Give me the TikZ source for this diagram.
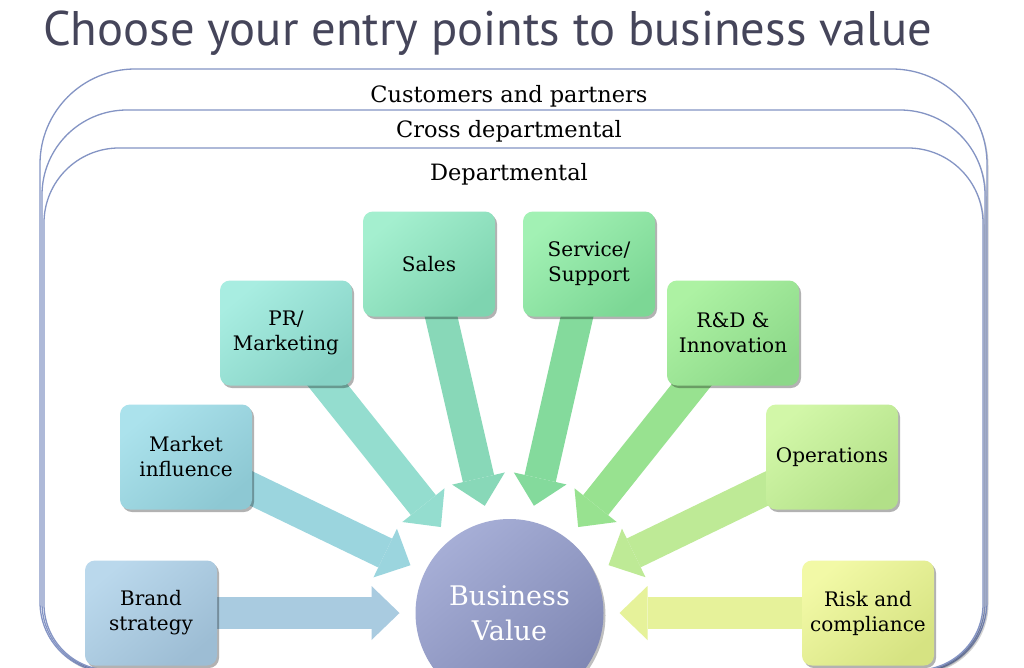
\documentclass[tikz,border=0pt]{standalone}
\usepackage{fontspec}
\setmainfont{DejaVu Serif}
\newfontfamily\titlefont{PT Sans}
\usetikzlibrary{arrows.meta,calc,shadows}
\pgfdeclarelayer{back}
\pgfdeclarelayer{mid}
\pgfsetlayers{back,mid,main}
\definecolor{titlecol}{HTML}{45455A}
\definecolor{framecol}{HTML}{8494C4}
\definecolor{brandA}{HTML}{BAD8EC}\definecolor{brandB}{HTML}{9DBDD4}\definecolor{brandC}{HTML}{A9CBE0}
\definecolor{marketA}{HTML}{ABE2EC}\definecolor{marketB}{HTML}{8DC8D3}\definecolor{marketC}{HTML}{9BD5DE}
\definecolor{prA}{HTML}{A8EDE1}\definecolor{prB}{HTML}{86D2C5}\definecolor{prC}{HTML}{94DDCF}
\definecolor{salesA}{HTML}{A4EFCF}\definecolor{salesB}{HTML}{7ED4B0}\definecolor{salesC}{HTML}{88D8B8}
\definecolor{servA}{HTML}{A2F1B4}\definecolor{servB}{HTML}{7CD795}\definecolor{servC}{HTML}{84DA9C}
\definecolor{rdA}{HTML}{ADF2A3}\definecolor{rdB}{HTML}{8CD889}\definecolor{rdC}{HTML}{98E290}
\definecolor{opsA}{HTML}{D2F7A8}\definecolor{opsB}{HTML}{B2E088}\definecolor{opsC}{HTML}{BEEA96}
\definecolor{riskA}{HTML}{F2F9A6}\definecolor{riskB}{HTML}{D6E382}\definecolor{riskC}{HTML}{E6F29A}
\definecolor{bvA}{HTML}{A6AED6}\definecolor{bvB}{HTML}{7F87B3}
\tikzset{
  frame/.style={draw=framecol, line width=1.3pt, fill=white,
    drop shadow={shadow xshift=1.5pt, shadow yshift=-2pt, opacity=.18, fill=black}},
  framelabel/.style={anchor=base, font=\fontsize{22.5}{26}\selectfont, inner sep=0pt},
  box/.style 2 args={rectangle, rounded corners=10pt, minimum width=132pt, minimum height=105pt,
    inner sep=0pt, align=center, font=\fontsize{20}{25}\selectfont,
    top color=#1, bottom color=#2, shading angle=40,
    drop shadow={shadow xshift=2pt, shadow yshift=-2.5pt, opacity=.3, fill=black}},
  barrow/.style={draw=#1, line width=32pt,
    -{Triangle[width=54pt,length=28pt,line width=0pt,fill=#1]}},
}
\begin{document}
\begin{tikzpicture}[x=1pt,y=-1pt]
\useasboundingbox (0,0) rectangle (1024,667);
\begin{pgfonlayer}{back}
\fill[white] (0,0) rectangle (1024,667);
\draw[frame] (40,400) [rounded corners=95pt] -- (40,69) -- (987,69) -- (987,400)
  [rounded corners=70pt] -- (987,672) -- (40,672) -- cycle;
\draw[frame] (42,400) [rounded corners=85pt] -- (42,110) -- (985,110) -- (985,400)
  [rounded corners=68pt] -- (985,671) -- (42,671) -- cycle;
\draw[frame] (44,400) [rounded corners=75pt] -- (44,148) -- (983,148) -- (983,400)
  [rounded corners=66pt] -- (983,670) -- (44,670) -- cycle;
\end{pgfonlayer}

\node[anchor=base west, inner sep=0pt, text=titlecol, font=\titlefont\fontsize{48.6}{52}\selectfont]
  (title) at (43,45) {Choose your entry points to business value};

\node[framelabel] (cust) at (509,102) {Customers and partners};
\node[framelabel] (cross) at (509,137) {Cross departmental};
\node[framelabel] (dept) at (509,180) {Departmental};

\node[box={brandA}{brandB}] (brand) at (151,613) {Brand\\strategy};
\node[box={marketA}{marketB}] (market) at (186,457) {Market\\influence};
\node[box={prA}{prB}] (pr) at (286,333) {PR/\\Marketing};
\node[box={salesA}{salesB}] (sales) at (429,264) {Sales};
\node[box={servA}{servB}] (serv) at (589,264) {Service/\\Support};
\node[box={rdA}{rdB}] (rd) at (733,333) {R\&D \&\\Innovation};
\node[box={opsA}{opsB}] (ops) at (832,457) {Operations};
\node[box={riskA}{riskB}] (risk) at (868,613) {Risk and\\compliance};

\node[circle, minimum size=188pt, inner sep=0pt, align=center, text=white,
  top color=bvA, bottom color=bvB, shading angle=40,
  font=\fontsize{27}{35}\selectfont,
  drop shadow={shadow xshift=2pt, shadow yshift=-2.5pt, opacity=.25, fill=black}]
  (bv) at (509.5,613) {Business\\Value};

\begin{pgfonlayer}{mid}
\foreach \n/\c in {brand/brandC, market/marketC, pr/prC, sales/salesC, serv/servC, rd/rdC, ops/opsC, risk/riskC}{
  \draw[barrow=\c] (\n.center) -- ($(bv.center)!110pt!(\n.center)$);
}
\end{pgfonlayer}
\end{tikzpicture}
\end{document}
